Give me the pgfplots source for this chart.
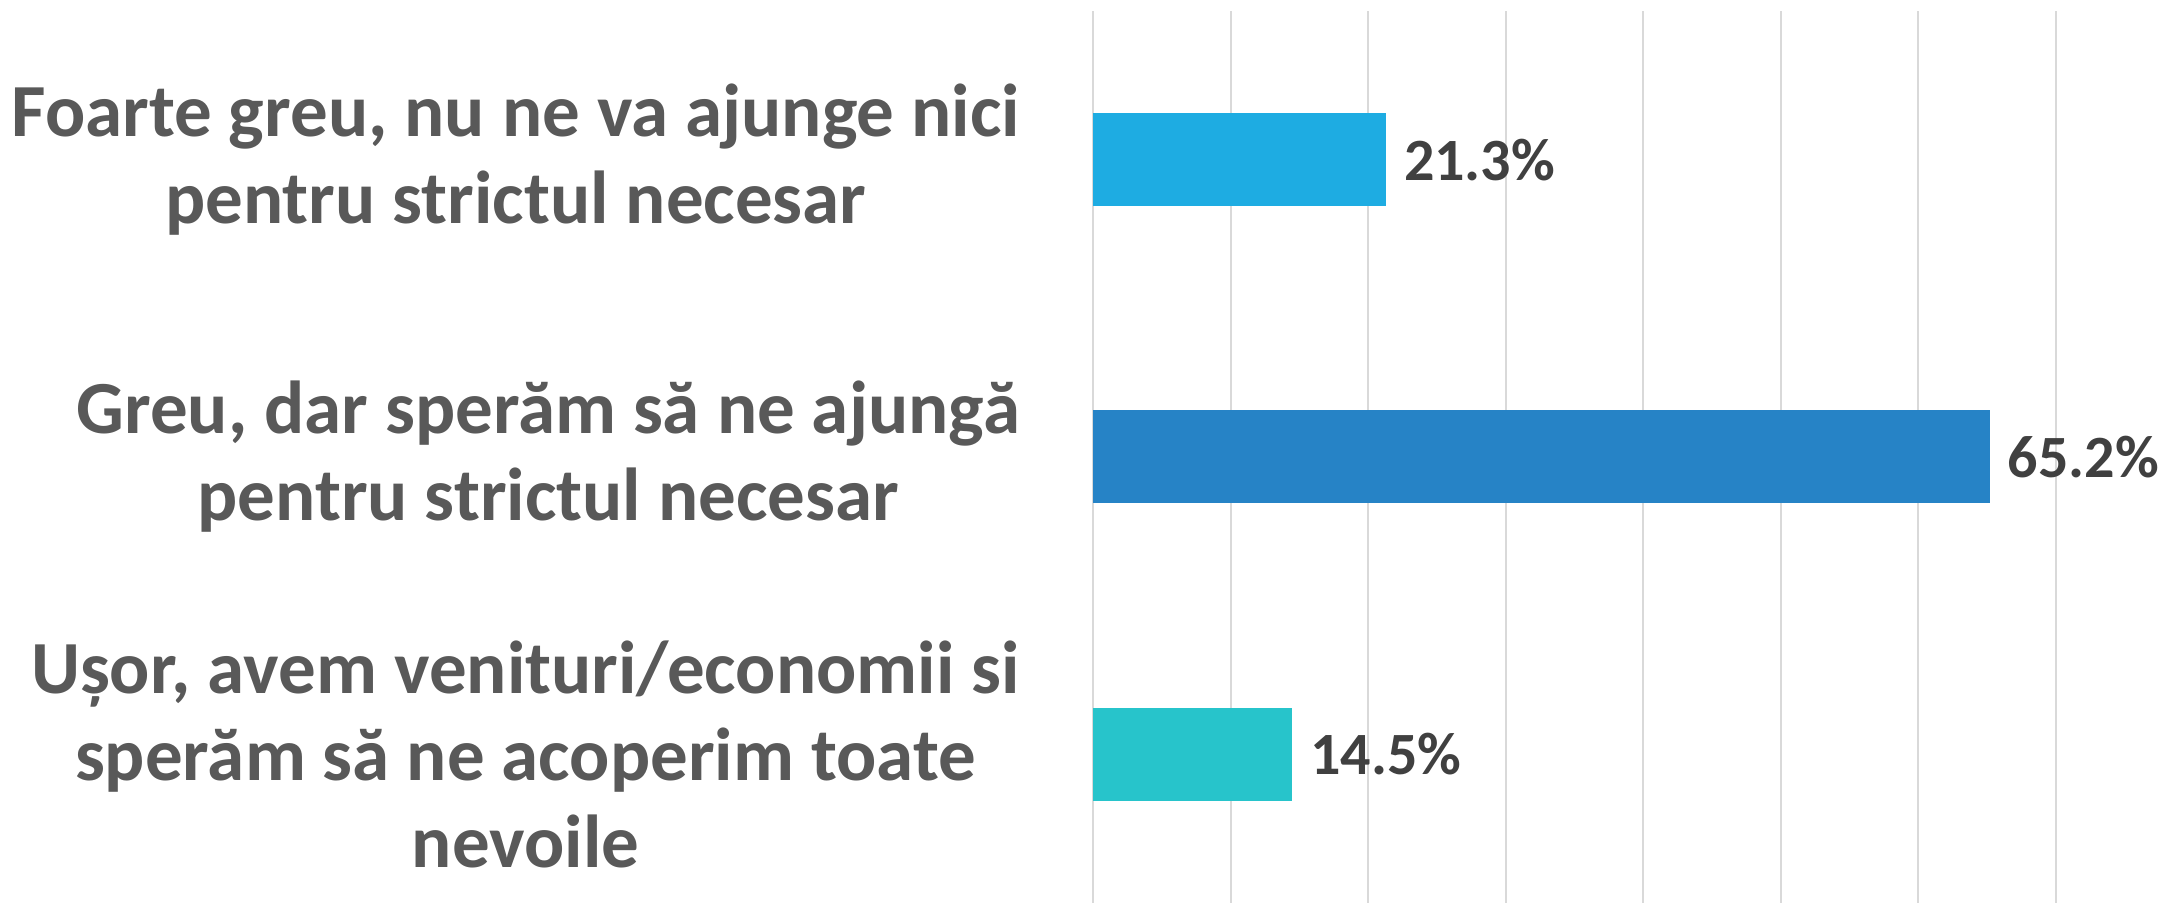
\documentclass[border=0pt]{standalone}
\usepackage{fontspec}
\setmainfont{Carlito}
\usepackage{pgfplots}
\pgfplotsset{compat=1.18}
\usetikzlibrary{calc}
\definecolor{txtgray}{HTML}{595959}
\definecolor{lblgray}{HTML}{404040}
\definecolor{gridgray}{HTML}{D9D9D9}
\definecolor{barA}{HTML}{1EACE2}
\definecolor{barB}{HTML}{2683C6}
\definecolor{barC}{HTML}{27C4CB}
\begin{document}
\begin{tikzpicture}
\begin{axis}[
  name=ax,
  scale only axis,
  width=192.6pt, height=178.4pt,
  xbar, bar shift=0pt, bar width=18.6pt,
  xmin=0, xmax=70,
  ymin=-0.5, ymax=2.5,
  xtick={0,10,...,70},
  xticklabels={},
  ytick={0,1,2},
  yticklabels={{Ușor, avem venituri/economii si\\sperăm să ne acoperim toate\\nevoile},
               {Greu, dar sperăm să ne ajungă\\pentru strictul necesar},
               {Foarte greu, nu ne va ajunge nici\\pentru strictul necesar}},
  yticklabel style={align=center, font=\fontsize{15pt}{17.4pt}\selectfont\bfseries, text=txtgray, inner sep=0pt, xshift=-14.4pt},
  major tick length=0pt,
  axis line style={draw=none},
  xmajorgrids,
  grid style={draw=gridgray, line width=0.4pt},
  clip=false,
  /pgf/number format/assume math mode=true,
  nodes near coords={\pgfmathprintnumber[fixed,precision=1,fixed zerofill,assume math mode=true]{\pgfplotspointmeta}\%},
  nodes near coords style={font=\fontsize{12pt}{14pt}\selectfont\bfseries, text=lblgray, anchor=west, inner sep=0pt, xshift=3.4pt},
]
\addplot[draw=none, fill=barC] coordinates {(14.5,0)};
\addplot[draw=none, fill=barB] coordinates {(65.2,1)};
\addplot[draw=none, fill=barA] coordinates {(21.3,2)};
\end{axis}
\pgfresetboundingbox
\path ($(ax.south west)+(-218.6pt,0pt)$) rectangle ($(ax.north east)+(22.8pt,2.2pt)$);
\end{tikzpicture}
\end{document}
